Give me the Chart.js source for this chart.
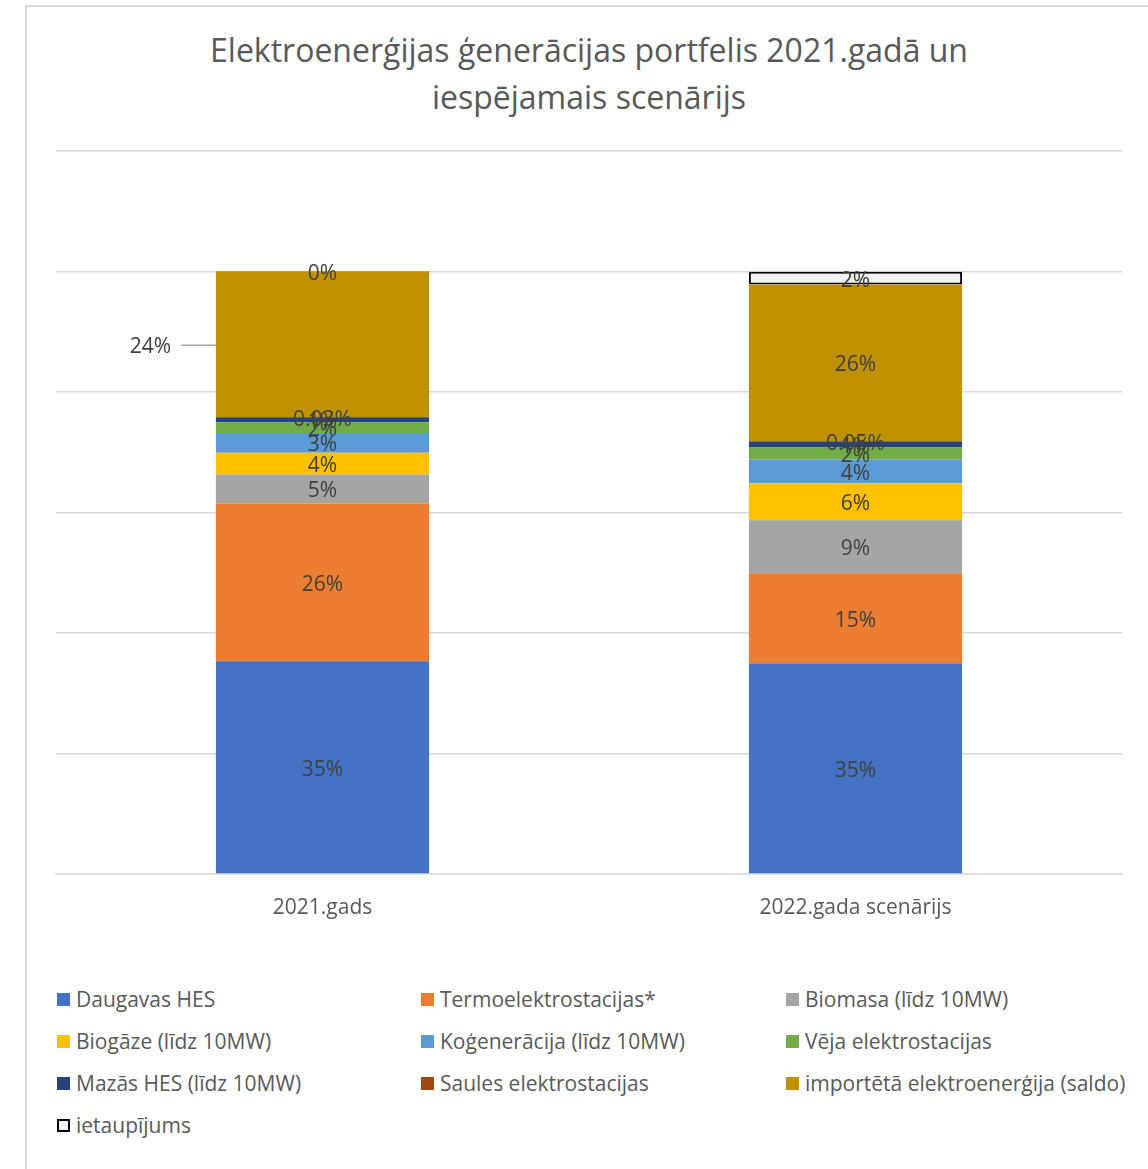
<!DOCTYPE html>
<html lang="lv">
<head>
<meta charset="utf-8">
<title>Elektroenerģijas ģenerācijas portfelis</title>
<script src="https://cdn.jsdelivr.net/npm/chart.js@4.4.1/dist/chart.umd.min.js"></script>
<style>
    html, body { margin: 0; padding: 0; background: #fff; overflow: hidden; }
    body { width: 1148px; height: 1169px; position: relative; font-family: 'Open Sans', sans-serif; color: #595959; }
    .frame { position: absolute; left: 25px; top: 5px; width: 1200px; height: 1200px; border: 2px solid #d9d9d9; box-sizing: border-box; }
    .title { position: absolute; left: 56px; width: 1066px; top: 26px; text-align: center; font-size: 32px; line-height: 47px; color: #595959; }
    #chartWrap { position: absolute; left: 0; top: 0; width: 1148px; height: 960px; }
    .legend { position: absolute; left: 57px; top: 985px; display: grid; grid-template-columns: 364px 365px 360px; grid-auto-rows: 42px; font-size: 21px; color: #595959; }
    .legend .item { display: flex; align-items: center; height: 28px; white-space: nowrap; }
    .legend .box { width: 13px; height: 13px; margin-right: 6px; box-sizing: border-box; flex: none; }
</style>
</head>
<body>
<div class="frame"></div>
<div class="title">Elektroenerģijas ģenerācijas portfelis 2021.gadā un<br>iespējamais scenārijs</div>
<div id="chartWrap"><canvas id="grafiks" width="1148" height="960"></canvas></div>
<div class="legend" id="legenda"></div>

<script>
// Kategorijas
const kategorijas = ['2021.gads', '2022.gada scenārijs'];

// Avotu daļas (0..1) katrā kategorijā
const daugavasHes = [0.353, 0.350];
const termoelektrostacijas = [0.262, 0.149];
const biomasa = [0.048, 0.088];
const biogaze = [0.036, 0.061];
const kogeneracija = [0.033, 0.040];
const vejaStacijas = [0.018, 0.020];
const mazasHes = [0.008, 0.010];
const saulesStacijas = [0.0003, 0.0005];
const imports = [0.242, 0.260];
const ietaupijums = [0, 0.021];

// Y ass robežas (bez redzamām iezīmēm)
const yTicks = [0, 0.2, 0.4, 0.6, 0.8, 1.0, 1.2];

const serijas = [
    { label: 'Daugavas HES', data: daugavasHes, color: '#4472C4' },
    { label: 'Termoelektrostacijas*', data: termoelektrostacijas, color: '#ED7D31' },
    { label: 'Biomasa (līdz 10MW)', data: biomasa, color: '#A5A5A5' },
    { label: 'Biogāze (līdz 10MW)', data: biogaze, color: '#FFC000' },
    { label: 'Koģenerācija (līdz 10MW)', data: kogeneracija, color: '#5B9BD5' },
    { label: 'Vēja elektrostacijas', data: vejaStacijas, color: '#70AD47' },
    { label: 'Mazās HES (līdz 10MW)', data: mazasHes, color: '#264478' },
    { label: 'Saules elektrostacijas', data: saulesStacijas, color: '#9E480E' },
    { label: 'importētā elektroenerģija (saldo)', data: imports, color: '#BF9000' },
    { label: 'ietaupījums', data: ietaupijums, color: '#F2F2F2', border: '#000000' }
];

// Procentu formāts: mazām vērtībām divas zīmes aiz komata
function procenti(v) {
    if (v > 0 && v < 0.005) return (v * 100).toFixed(2) + '%';
    return Math.round(v * 100) + '%';
}

// Etiķetes, kas novietotas ārpus stabiņa ar līniju (datu kopa, indekss)
const arejasEtiketes = { '8:0': { dx: -172 } };

const etiketesPlugin = {
    id: 'etiketes',
    afterDatasetsDraw(chart) {
        const ctx = chart.ctx;
        ctx.save();
        ctx.font = "21px 'Open Sans', sans-serif";
        ctx.fillStyle = '#404040';
        ctx.textAlign = 'center';
        ctx.textBaseline = 'middle';
        chart.data.datasets.forEach((ds, di) => {
            const meta = chart.getDatasetMeta(di);
            meta.data.forEach((bar, i) => {
                const v = ds.data[i];
                const teksts = procenti(v);
                const yc = (bar.y + bar.base) / 2 + 2.5;
                const arejs = arejasEtiketes[di + ':' + i];
                if (arejs) {
                    const x = bar.x + arejs.dx;
                    const left = bar.x - bar.width / 2;
                    ctx.strokeStyle = '#a6a6a6';
                    ctx.lineWidth = 1.5;
                    ctx.beginPath();
                    ctx.moveTo(x + 31, yc - 1.5);
                    ctx.lineTo(left, yc - 1.5);
                    ctx.stroke();
                    ctx.fillText(teksts, x, yc);
                } else {
                    ctx.fillText(teksts, bar.x, yc);
                }
            });
        });
        ctx.restore();
    }
};

const ctx = document.getElementById('grafiks').getContext('2d');
new Chart(ctx, {
    type: 'bar',
    data: {
        labels: kategorijas,
        datasets: serijas.map(s => ({
            label: s.label,
            data: s.data,
            backgroundColor: s.color,
            borderColor: s.border || s.color,
            borderWidth: s.border ? 2 : 0,
            borderSkipped: false,
            categoryPercentage: 0.8,
            barPercentage: 0.5
        }))
    },
    options: {
        responsive: false,
        animation: false,
        layout: { padding: { left: 56, right: 26, top: 151, bottom: 26 } },
        plugins: {
            legend: { display: false },
            title: { display: false },
            tooltip: { enabled: false }
        },
        scales: {
            x: {
                stacked: true,
                grid: { display: false },
                border: { color: '#d9d9d9', width: 1.5 },
                ticks: {
                    color: '#595959',
                    padding: 13,
                    font: { family: "'Open Sans', sans-serif", size: 21 }
                },
                afterFit: s => { s.height = 60; }
            },
            y: {
                stacked: true,
                min: yTicks[0],
                max: yTicks[yTicks.length - 1],
                afterBuildTicks: s => { s.ticks = yTicks.map(v => ({ value: v })); },
                grid: { color: '#d9d9d9', lineWidth: 1.5, drawTicks: false },
                border: { display: false },
                ticks: { display: false },
                afterFit: s => { s.width = 0; }
            }
        }
    },
    plugins: [etiketesPlugin]
});

// Leģenda trīs kolonnās
const legenda = document.getElementById('legenda');
serijas.forEach(s => {
    const el = document.createElement('div');
    el.className = 'item';
    const box = document.createElement('span');
    box.className = 'box';
    box.style.background = s.color;
    if (s.border) box.style.border = '2px solid ' + s.border;
    el.appendChild(box);
    el.appendChild(document.createTextNode(s.label));
    legenda.appendChild(el);
});
</script>
</body>
</html>
